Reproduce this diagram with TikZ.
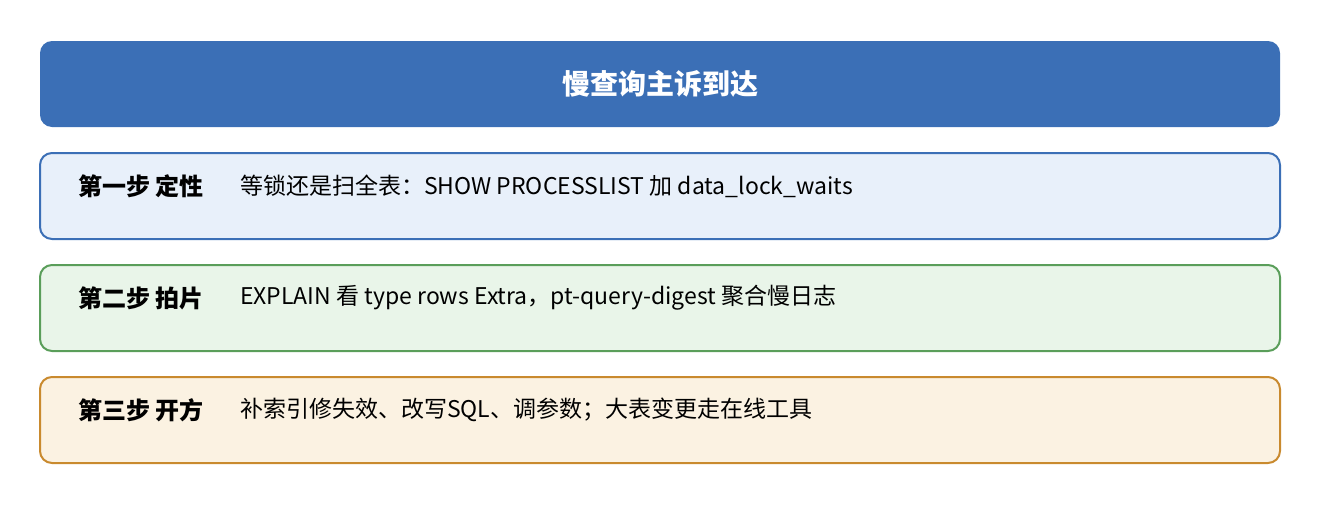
\documentclass[tikz,border=0pt]{standalone}
\usepackage{fontspec}
\setmainfont{Noto Sans CJK SC}
\usetikzlibrary{positioning}
\definecolor{headblue}{HTML}{3B6FB6}
\definecolor{bluefill}{HTML}{E8F0FA}
\definecolor{greenline}{HTML}{5A9E5A}
\definecolor{greenfill}{HTML}{E9F5E9}
\definecolor{orangeline}{HTML}{C98A2E}
\definecolor{orangefill}{HTML}{FBF2E2}
\tikzset {
  % step box
  stage box/.style = {
    rectangle,
    rounded corners = 6pt,
    line width = 1pt,
    minimum width = 620pt,
    minimum height = 43pt,
    inner sep = 0
  },
  head/.style = {
    stage box,
    fill = headblue,
    text = white,
    font = \bfseries\fontsize{14}{16}\selectfont
  },
  tag/.style = {
    anchor = west,
    font = \bfseries\fontsize{12}{14}\selectfont
  },
  desc/.style = {
    anchor = west,
    font = \fontsize{11.5}{14}\selectfont
  },
  node distance = 12pt
}
\begin{document}
\begin{tikzpicture}
  \useasboundingbox (0,0) rectangle (660pt,-260pt);
  \node[head] (complaint) at (330pt,-42pt) {慢查询主诉到达};
  \node[stage box, draw = headblue, fill = bluefill] (locate) [below=of complaint] {};
  \node[stage box, draw = greenline, fill = greenfill] (film) [below=of locate] {};
  \node[stage box, draw = orangeline, fill = orangefill] (cure) [below=of film] {};

  \node[tag] (locate-tag) at ([xshift=16pt,yshift=5pt]locate.west) {第一步 定性};
  \node[desc] at ([xshift=97pt,yshift=5pt]locate.west) {等锁还是扫全表：SHOW PROCESSLIST 加 data\_lock\_waits};
  \node[tag] (film-tag) at ([xshift=16pt,yshift=5pt]film.west) {第二步 拍片};
  \node[desc] at ([xshift=97pt,yshift=5pt]film.west) {EXPLAIN 看 type rows Extra，pt-query-digest 聚合慢日志};
  \node[tag] (cure-tag) at ([xshift=16pt,yshift=5pt]cure.west) {第三步 开方};
  \node[desc] at ([xshift=97pt,yshift=5pt]cure.west) {补索引修失效、改写SQL、调参数；大表变更走在线工具};
\end{tikzpicture}
\end{document}
